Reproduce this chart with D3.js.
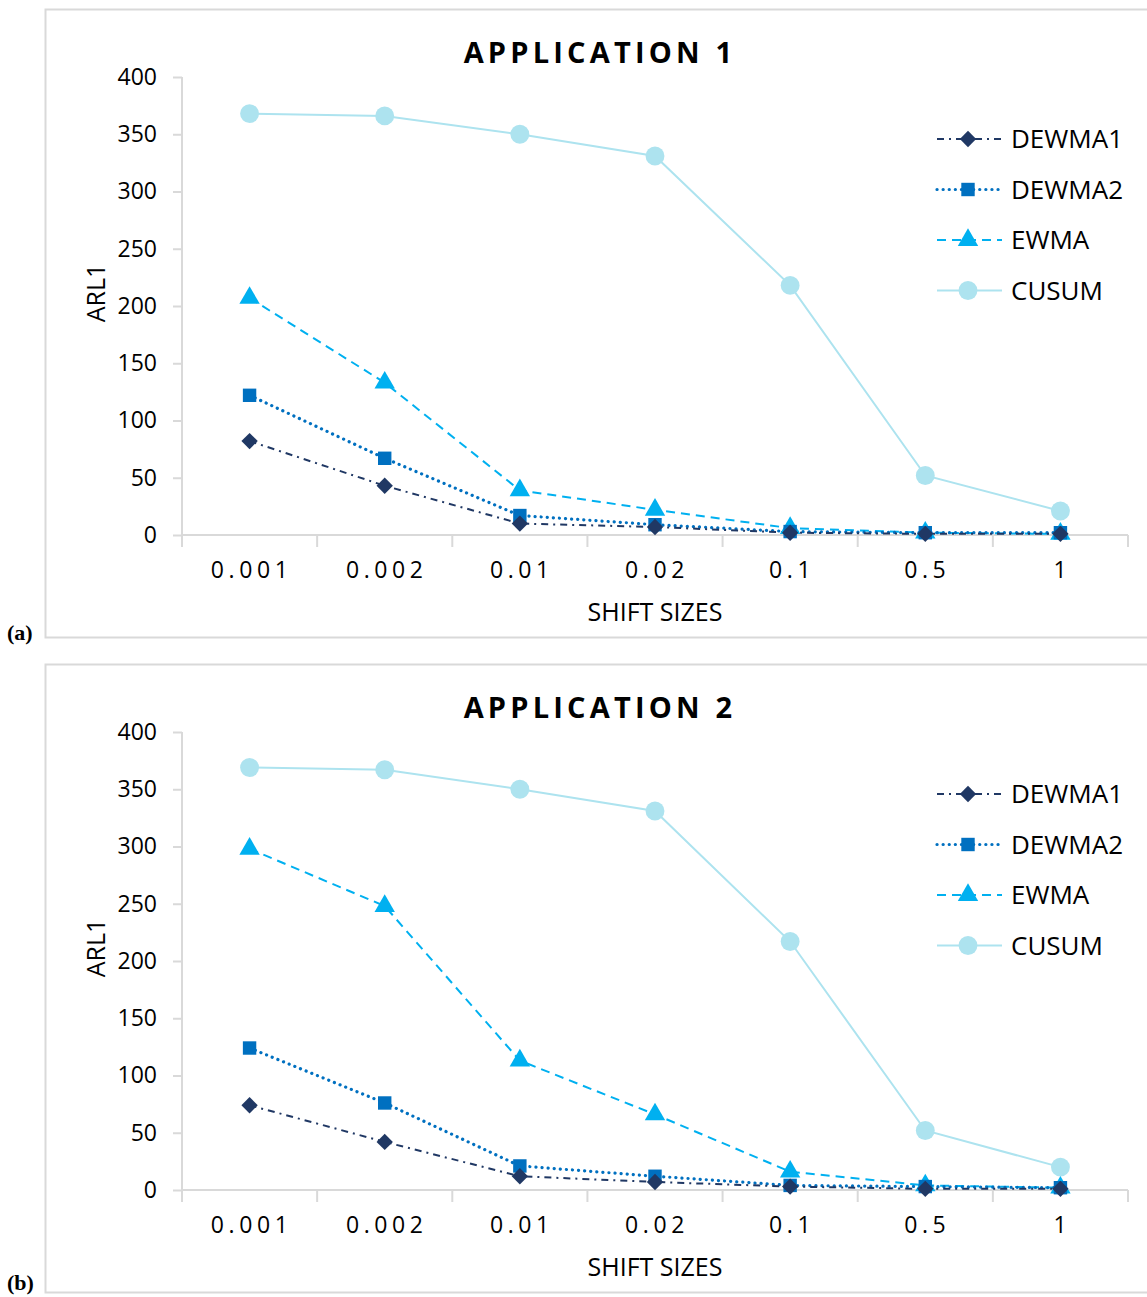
<!DOCTYPE html>
<html>
<head>
<meta charset="utf-8">
<script src="https://cdn.jsdelivr.net/npm/d3@7"></script>
<style>
  body { margin: 0; background: #fff; }
  svg text { font-family: "Open Sans", "Noto Sans", sans-serif; fill: #000; }
</style>
</head>
<body>
<div id="chart"></div>
<script>
// shift sizes on the x axis
var shifts = ["0.001", "0.002", "0.01", "0.02", "0.1", "0.5", "1"];
var yTicks = [0, 50, 100, 150, 200, 250, 300, 350, 400];
var seriesNames = ["DEWMA1", "DEWMA2", "EWMA", "CUSUM"];

// application 1
var app1Dewma1 = [82, 43, 10, 7, 2, 1, 1];
var app1Dewma2 = [122, 67, 17, 9, 3, 2, 2];
var app1Ewma = [207, 133, 39, 22, 6, 2, 1];
var app1Cusum = [368, 366, 350, 331, 218, 52, 21];

// application 2
var app2Dewma1 = [74, 42, 12, 7, 3, 1, 1];
var app2Dewma2 = [124, 76, 21, 12, 4, 3, 2];
var app2Ewma = [298, 248, 113, 66, 16, 4, 2];
var app2Cusum = [369, 367, 350, 331, 217, 52, 20];

var styles = {
    DEWMA1: {color: "#203864", dash: "7,5,2,5", cap: "butt", width: 2, symbol: d3.symbolDiamond2, size: 170},
    DEWMA2: {color: "#0070C0", dash: "0.1,6", cap: "round", width: 3.2, symbol: d3.symbolSquare, size: 180},
    EWMA: {color: "#00B0F0", dash: "9,6", cap: "butt", width: 2, symbol: d3.symbolTriangle, size: 180},
    CUSUM: {color: "#ADE3EF", dash: null, cap: "butt", width: 2, symbol: d3.symbolCircle, size: 280}
};

var W = 1147, H = 1297;
var svg = d3.select("#chart").append("svg")
    .attr("width", W).attr("height", H);

function drawPanel(top, title, tag, tagY, seriesData) {
    var g = svg.append("g").attr("transform", "translate(0," + top + ")");

    // outer frame
    g.append("rect")
        .attr("x", 45.5).attr("y", 0.5)
        .attr("width", 1110).attr("height", 628)
        .attr("fill", "none").attr("stroke", "#d9d9d9").attr("stroke-width", 2);

    svg.append("text")
        .attr("x", 7).attr("y", tagY)
        .style("font-family", "'Liberation Serif', 'Times New Roman', serif")
        .style("font-weight", "bold").style("font-size", "22px")
        .text(tag);

    var x = d3.scaleBand().domain(shifts).range([182, 1128]);
    var y = d3.scaleLinear().domain([0, 400]).range([526, 68]);

    // title
    g.append("text")
        .attr("x", 600).attr("y", 54)
        .attr("text-anchor", "middle")
        .style("font-size", "29px").style("font-weight", "bold")
        .style("letter-spacing", "4.2px")
        .text(title);

    // y axis
    var yAxis = g.append("g")
        .attr("transform", "translate(182,0)")
        .call(d3.axisLeft(y).tickValues(yTicks).tickSize(9).tickPadding(16));
    yAxis.selectAll("path, line").attr("stroke", "#d9d9d9").attr("stroke-width", 2);
    yAxis.select(".domain").attr("d", "M0," + y(400) + "V" + y(0));
    yAxis.selectAll("text").style("font-size", "23px").attr("fill", "#000");

    // x axis, ticks at band boundaries
    var xAxis = g.append("g")
        .attr("transform", "translate(0," + y(0) + ")")
        .call(d3.axisBottom(x).tickSize(0).tickPadding(27));
    xAxis.select(".domain").attr("stroke", "#d9d9d9").attr("stroke-width", 2)
        .attr("d", "M182,0H1128");
    xAxis.selectAll("text").style("font-size", "23px").style("letter-spacing", "4.6px")
        .attr("dx", "2px").attr("fill", "#000");
    g.selectAll(".xbound")
        .data(shifts.concat(["end"]))
        .enter().append("line")
        .attr("x1", function(d, i) { return x.range()[0] + i * x.bandwidth(); })
        .attr("x2", function(d, i) { return x.range()[0] + i * x.bandwidth(); })
        .attr("y1", y(0)).attr("y2", y(0) + 12)
        .attr("stroke", "#d9d9d9").attr("stroke-width", 2);

    // axis titles
    g.append("text")
        .attr("x", 655).attr("y", 612)
        .attr("text-anchor", "middle")
        .style("font-size", "25px")
        .text("SHIFT SIZES");
    g.append("text")
        .attr("transform", "translate(105,284) rotate(-90)")
        .attr("text-anchor", "middle")
        .style("font-size", "25px")
        .text("ARL1");

    var line = d3.line()
        .x(function(d, i) { return x(shifts[i]) + x.bandwidth() / 2; })
        .y(function(d) { return y(d); });

    // draw CUSUM first so darker series sit on top
    var order = ["CUSUM", "EWMA", "DEWMA2", "DEWMA1"];
    order.forEach(function(name) {
        var s = styles[name];
        g.append("path")
            .datum(seriesData[name])
            .attr("fill", "none")
            .attr("stroke", s.color)
            .attr("stroke-width", s.width)
            .attr("stroke-dasharray", s.dash)
            .attr("stroke-linecap", s.cap)
            .attr("d", line);
    });
    order.forEach(function(name) {
        var s = styles[name];
        g.selectAll(".pt-" + name)
            .data(seriesData[name])
            .enter().append("path")
            .attr("class", "pt-" + name)
            .attr("transform", function(d, i) {
                return "translate(" + (x(shifts[i]) + x.bandwidth() / 2) + "," + y(d) + ")";
            })
            .attr("d", d3.symbol().type(s.symbol).size(s.size))
            .attr("fill", s.color);
    });

    // legend
    var leg = g.selectAll(".leg")
        .data(seriesNames)
        .enter().append("g")
        .attr("transform", function(d, i) { return "translate(0," + (130 + i * 50.5) + ")"; });
    leg.append("line")
        .attr("x1", 937).attr("x2", 1002).attr("y1", 0).attr("y2", 0)
        .attr("stroke", function(d) { return styles[d].color; })
        .attr("stroke-width", function(d) { return styles[d].width; })
        .attr("stroke-dasharray", function(d) { return styles[d].dash; })
        .attr("stroke-linecap", function(d) { return styles[d].cap; });
    leg.append("path")
        .attr("transform", "translate(968,0)")
        .attr("d", function(d) { return d3.symbol().type(styles[d].symbol).size(styles[d].size)(); })
        .attr("fill", function(d) { return styles[d].color; });
    leg.append("text")
        .attr("x", 1011).attr("y", 0).attr("dy", "0.36em")
        .style("font-size", "26px")
        .text(function(d) { return d; });
}

drawPanel(9, "APPLICATION 1", "(a)", 640,
    {DEWMA1: app1Dewma1, DEWMA2: app1Dewma2, EWMA: app1Ewma, CUSUM: app1Cusum});
drawPanel(664, "APPLICATION 2", "(b)", 1290,
    {DEWMA1: app2Dewma1, DEWMA2: app2Dewma2, EWMA: app2Ewma, CUSUM: app2Cusum});
</script>
</body>
</html>
